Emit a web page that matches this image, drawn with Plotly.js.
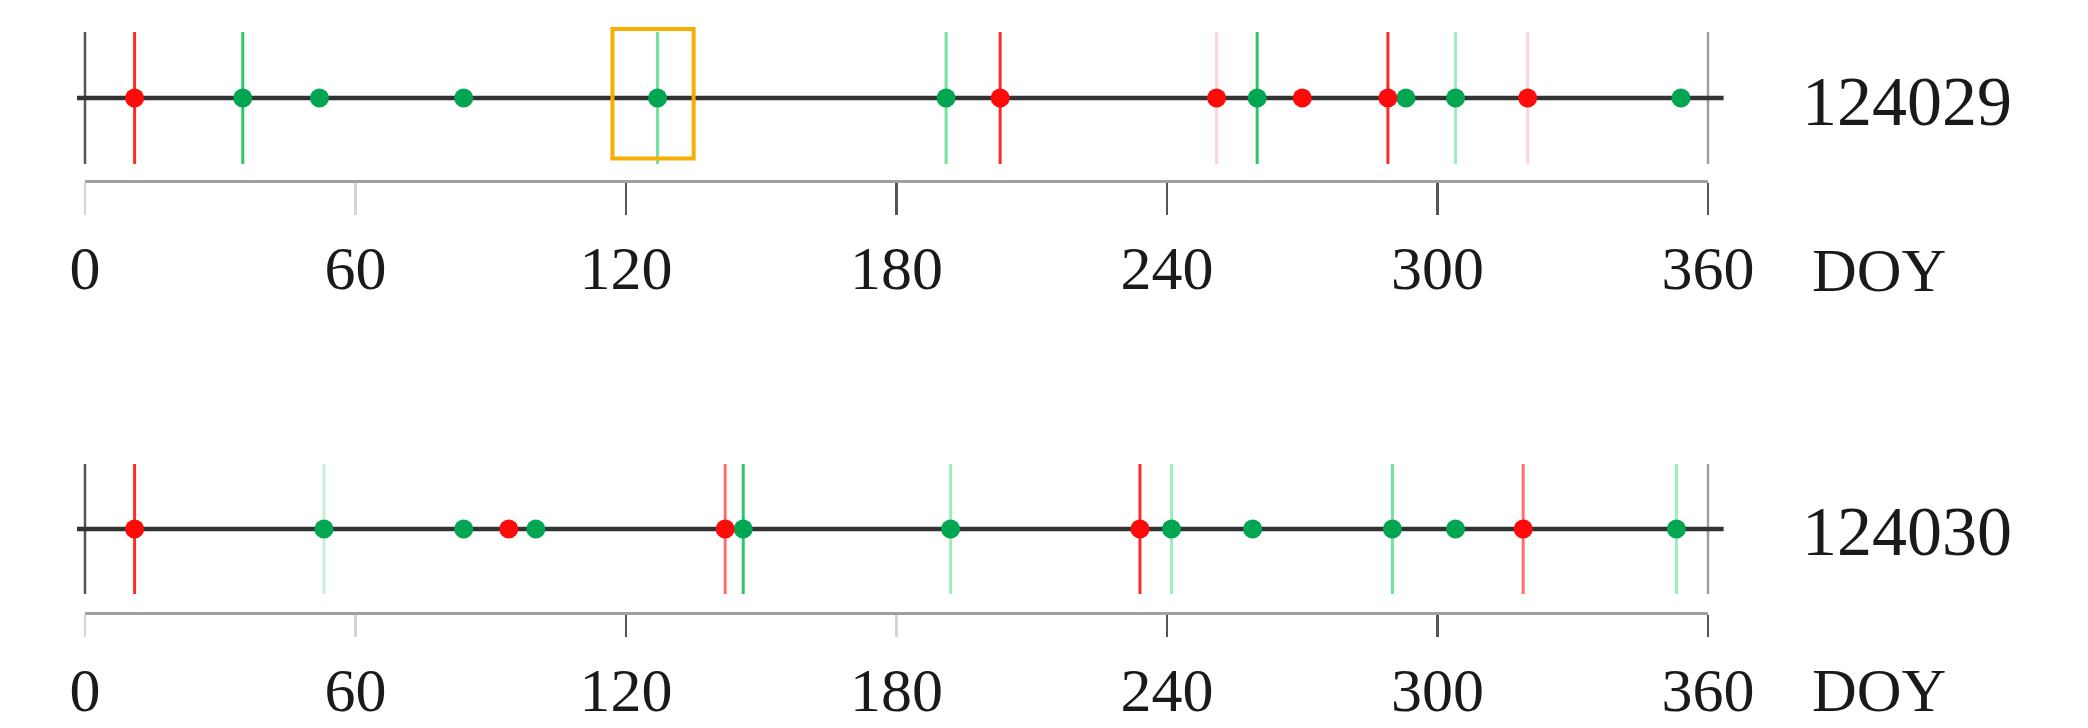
<!DOCTYPE html>
<html><head><meta charset="utf-8">
<script src="https://cdn.plot.ly/plotly-3.0.1.min.js"></script>
<style>html,body{margin:0;padding:0;background:#fff}#chart{width:2088px;height:728px}</style>
</head><body><div id="chart"></div>
<script>
// ---- data ----
const doyTicks = [0, 60, 120, 180, 240, 300, 360];
const panelNames = ['124029', '124030'];
const axisTitle = 'DOY';

const topRedDoy = [11, 203, 251, 270, 289, 320];
const topRedConf = [4, 4, 1, 0, 4, 1];
const topGreenDoy = [35, 52, 84, 127, 191, 260, 293, 304, 354];
const topGreenConf = [4, 0, 0, 3, 3, 4, 0, 2, 0];

const bottomRedDoy = [11, 94, 142, 234, 319];
const bottomRedConf = [4, 0, 3, 4, 3];
const bottomGreenDoy = [53, 84, 100, 146, 192, 241, 259, 290, 304, 353];
const bottomGreenConf = [1, 0, 0, 4, 2, 2, 0, 3, 0, 2];

const highlightWindow = [117, 135];
const timelineExtent = [-1.8, 363.5];
const axisExtent = [0, 360];
const frameDoys = [0, 360];
const topDarkTicks = [120, 180, 240, 300, 360];
const bottomDarkTicks = [120, 240, 300, 360];

// ---- layout geometry (pixels) ----
const W = 2088, H = 728;
const axisLeftPx = 85, axisRightPx = 1708;
const pxPerDay = (axisRightPx - axisLeftPx) / (axisExtent[1] - axisExtent[0]);
const dataDomain = [
  (axisLeftPx + (timelineExtent[0] - axisExtent[0]) * pxPerDay) / W,
  (axisRightPx + (timelineExtent[1] - axisExtent[1]) * pxPerDay) / W
];
const axisDomain = [axisLeftPx / W, axisRightPx / W];

// ---- styles ----
const RED = '#ff0a0a', GREEN = '#00a651';
const redPalette = {1: '#ffd6d6', 2: '#ff9c9c', 3: '#ff6e6e', 4: '#ff2a2a'};
const greenPalette = {1: '#c4f3d6', 2: '#9cefbd', 3: '#6fe39d', 4: '#2cc866'};
const FONT = 'Liberation Serif, Times New Roman, serif';

function lineTraces(doys, conf, palette, xa, ya) {
  const groups = {};
  doys.forEach((d, i) => { const c = conf[i]; if (!c) return; (groups[c] = groups[c] || []).push(d); });
  return Object.keys(groups).map(k => {
    const xs = [], ys = [];
    groups[k].forEach(d => { xs.push(d, d, null); ys.push(-1, 1, null); });
    return {type: 'scatter', mode: 'lines', x: xs, y: ys, xaxis: xa, yaxis: ya,
      line: {color: palette[k], width: 3}, hoverinfo: 'skip', showlegend: false};
  });
}
function frameTraces(xa, ya) {
  const cols = ['#555555', '#a0a0a0'];
  return frameDoys.map((d, i) => ({type: 'scatter', mode: 'lines', x: [d, d], y: [-1, 1],
    xaxis: xa, yaxis: ya, line: {color: cols[i], width: 2.5}, hoverinfo: 'skip', showlegend: false}));
}
function baseline(xa, ya) {
  return {type: 'scatter', mode: 'lines', x: timelineExtent, y: [0, 0], xaxis: xa, yaxis: ya,
    line: {color: '#333333', width: 4.5}, hoverinfo: 'skip', showlegend: false};
}
function dots(doys, color, xa, ya) {
  return {type: 'scatter', mode: 'markers', x: doys, y: doys.map(() => 0), xaxis: xa, yaxis: ya,
    cliponaxis: false, marker: {color: color, size: 19, line: {width: 0}}, hoverinfo: 'x', showlegend: false};
}
function panel(xa, ya, redD, redC, greenD, greenC) {
  return [].concat(
    frameTraces(xa, ya),
    [baseline(xa, ya)],
    lineTraces(greenD, greenC, greenPalette, xa, ya),
    lineTraces(redD, redC, redPalette, xa, ya),
    [dots(greenD, GREEN, xa, ya), dots(redD, RED, xa, ya)]
  );
}

const data = [].concat(
  panel('x', 'y', topRedDoy, topRedConf, topGreenDoy, topGreenConf),
  panel('x2', 'y2', bottomRedDoy, bottomRedConf, bottomGreenDoy, bottomGreenConf),
  ['x3', 'x5'].map(a => ({type: 'scatter', x: [], y: [], xaxis: a, yaxis: 'y', showlegend: false, hoverinfo: 'skip'})),
  ['x4', 'x6'].map(a => ({type: 'scatter', x: [], y: [], xaxis: a, yaxis: 'y2', showlegend: false, hoverinfo: 'skip'}))
);

function dataX(anchor) {
  return {domain: dataDomain, range: timelineExtent, anchor: anchor, visible: false, fixedrange: true};
}
function tickX(anchor, len) {
  return {domain: axisDomain, range: axisExtent, anchor: anchor, tickmode: 'array', tickvals: doyTicks,
    ticktext: doyTicks.map(String), ticks: 'outside', ticklen: len, tickwidth: 2.5, tickcolor: '#d4d4d4',
    showline: true, linecolor: '#a0a0a0', linewidth: 3, showgrid: false, zeroline: false,
    tickfont: {family: FONT, size: 62, color: '#1a1a1a'}, fixedrange: true};
}
function darkTickX(over, anchor, vals, len) {
  return {overlaying: over, domain: axisDomain, anchor: anchor, range: axisExtent, tickmode: 'array', tickvals: vals,
    ticks: 'outside', ticklen: len, tickwidth: 2.5, tickcolor: '#555555', showticklabels: false,
    showline: true, linecolor: '#a0a0a0', linewidth: 3, showgrid: false, zeroline: false, fixedrange: true};
}

const layout = {
  width: W, height: H, paper_bgcolor: '#ffffff', plot_bgcolor: 'rgba(0,0,0,0)',
  margin: {l: 0, r: 0, t: 0, b: 0}, showlegend: false,
  xaxis: dataX('y'),
  yaxis: {domain: [0.7527, 0.9651], range: [-1.242, 1.1], visible: false, fixedrange: true},
  xaxis2: dataX('y2'),
  yaxis2: {domain: [0.1593, 0.3716], range: [-1.277, 1.1], visible: false, fixedrange: true},
  xaxis3: tickX('y', 32),
  xaxis4: tickX('y2', 22),
  xaxis5: darkTickX('x3', 'y', topDarkTicks, 32),
  xaxis6: darkTickX('x4', 'y2', bottomDarkTicks, 22),
  shapes: [{type: 'rect', xref: 'x', yref: 'y', x0: highlightWindow[0], x1: highlightWindow[1],
    y0: -0.917, y1: 1.045, line: {color: '#f7ae00', width: 4}, fillcolor: 'rgba(0,0,0,0)', layer: 'above'}],
  annotations: [
    {xref: 'paper', yref: 'paper', x: 1800 / W, y: 1 - 102 / H, xanchor: 'left', yanchor: 'middle',
     text: panelNames[0], showarrow: false, font: {family: FONT, size: 70, color: '#1a1a1a'}},
    {xref: 'paper', yref: 'paper', x: 1800 / W, y: 1 - 531 / H, xanchor: 'left', yanchor: 'middle',
     text: panelNames[1], showarrow: false, font: {family: FONT, size: 70, color: '#1a1a1a'}},
    {xref: 'paper', yref: 'paper', x: 1810 / W, y: 1 - 270 / H, xanchor: 'left', yanchor: 'middle',
     text: axisTitle, showarrow: false, font: {family: FONT, size: 62, color: '#1a1a1a'}},
    {xref: 'paper', yref: 'paper', x: 1810 / W, y: 1 - 690 / H, xanchor: 'left', yanchor: 'middle',
     text: axisTitle, showarrow: false, font: {family: FONT, size: 62, color: '#1a1a1a'}}
  ]
};

Plotly.newPlot('chart', data, layout, {displayModeBar: false, staticPlot: true});
</script></body></html>
